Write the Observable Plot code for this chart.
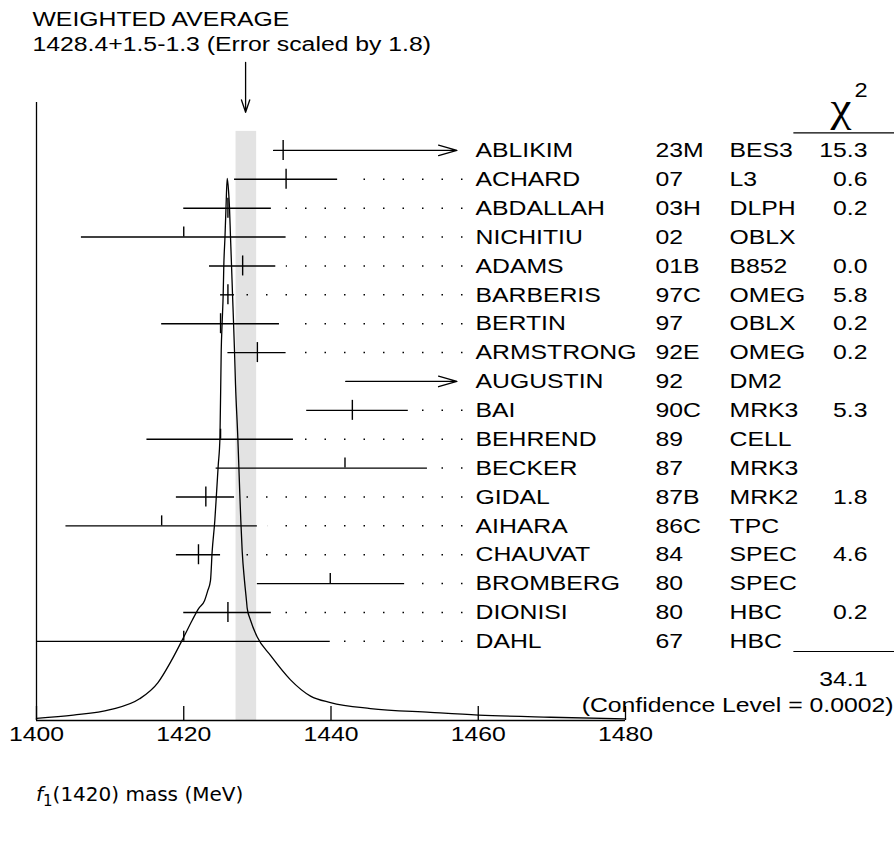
<!DOCTYPE html>
<html><head><meta charset="utf-8">
<script src="https://cdn.jsdelivr.net/npm/d3@7"></script>
<script src="https://cdn.jsdelivr.net/npm/@observablehq/plot@0.6"></script>
<style>
body{margin:0;background:#fff;}
#chart{position:absolute;left:0;top:0;}
#caption{position:absolute;left:36px;top:784px;font-family:"DejaVu Sans";font-size:20px;line-height:1;white-space:nowrap;}
#caption sub{font-size:0.75em;vertical-align:baseline;position:relative;top:0.3em;}
</style></head><body>
<div id="chart"></div>
<div id="caption"><i>f</i><sub>1</sub>(1420) mass (MeV)</div>
<script>
// ---- data ----
const authors = ["ABLIKIM","ACHARD","ABDALLAH","NICHITIU","ADAMS","BARBERIS","BERTIN","ARMSTRONG","AUGUSTIN","BAI","BEHREND","BECKER","GIDAL","AIHARA","CHAUVAT","BROMBERG","DIONISI","DAHL"];
const codes = ["23M","07","03H","02","01B","97C","97","92E","92","90C","89","87","87B","86C","84","80","80","67"];
const experiments = ["BES3","L3","DLPH","OBLX","B852","OMEG","OBLX","OMEG","DM2","MRK3","CELL","MRK3","MRK2","TPC","SPEC","SPEC","HBC","HBC"];
const chi2 = ["15.3","0.6","0.2","","0.0","5.8","0.2","0.2","","5.3","","","1.8","","4.6","","0.2",""];
const values = [1433.5,1433.9,1426.0,1420.0,1428.0,1426.0,1425.0,1430.0,null,1442.9,1425.0,1441.9,1423.0,1417.0,1422.0,1439.9,1426.0,1420.0];
const lows = [1432.2,1426.9,1420.0,1406.1,1423.5,1425.0,1417.0,1426.0,1442.0,1436.7,1415.0,1424.4,1419.0,1404.0,1419.0,1430.0,1420.0,1400.0];
const highs = [1457.1,1440.9,1431.9,1433.9,1432.5,1426.9,1433.0,1433.9,1457.1,1450.5,1434.9,1453.1,1426.9,1430.0,1425.0,1450.0,1431.9,1439.9];
const offScale = [true,false,false,false,false,false,false,false,true,false,false,false,false,false,false,false,false,false];

// ideogram curve (mass, relative height)
const curveMass = [1400.0,1405.0,1410.0,1414.0,1416.5,1418.3,1420.0,1421.15,1422.04,1422.82,1423.27,1423.63,1423.86,1424.22,1424.45,1424.68,1424.92,1425.09,1425.22,1425.36,1425.44,1425.6,1425.74,1425.9,1426.08,1426.21,1426.35,1426.49,1426.62,1426.76,1426.89,1427.03,1427.34,1427.48,1427.61,1427.75,1427.94,1428.25,1428.52,1428.62,1429.07,1429.98,1431.78,1434.5,1437.22,1439.93,1445.36,1453.51,1460.03,1469.81,1480.0];
const curveHeight = [0.004,0.01,0.02,0.04,0.07,0.11,0.154,0.185,0.207,0.221,0.24,0.258,0.312,0.369,0.419,0.47,0.523,0.683,0.735,0.788,0.839,0.892,0.947,1.0,0.978,0.947,0.892,0.839,0.788,0.735,0.683,0.62,0.523,0.47,0.419,0.369,0.312,0.258,0.221,0.207,0.185,0.154,0.12,0.075,0.045,0.033,0.022,0.015,0.01,0.006,0.003];

const xTicks = [1400,1420,1440,1460,1480];
const avgValue = 1428.4, avgLow = 1427.1, avgHigh = 1429.9;
const titleLines = ["WEIGHTED AVERAGE","1428.4+1.5-1.3 (Error scaled by 1.8)"];
const chiTotal = "34.1";
const confidence = "(Confidence Level = 0.0002)";

// ---- layout constants ----
const ROW_PX = 28.88;
const yTop = -1.66, yBase = 19.74;       // y domain in row units
const peakRow = 0.97;                    // row level of curve peak
const tickHalf = 10 / ROW_PX;
const axisTick = 14 / ROW_PX;
const leaderStart = 1457.86;             // where the dotted leaders begin (name side)
const leaderGap = 1.36;
const chiRuleFrom = 1502.8, chiRuleTo = 1516.6;
const STRETCH = 1.18;                    // reference lettering is wider than Liberation Sans

const rows = authors.map((a, i) => ({i, author: a, code: codes[i], exp: experiments[i], chi: chi2[i],
  value: values[i], lo: lows[i], hi: highs[i], off: offScale[i]}));
const curve = curveMass.map((m, k) => ({m, h: curveHeight[k]}));
const bars = rows.filter(d => !d.off);
const arrowsRows = rows.filter(d => d.off);
const fullTicks = rows.filter(d => d.value != null && d.chi !== "");
const halfTicks = rows.filter(d => d.value != null && d.chi === "");

const F = "Liberation Sans, Arial, sans-serif";
const FS = 21;

const plot = Plot.plot({
  width: 894, height: 770,
  marginLeft: 36, marginRight: 269, marginTop: 102, marginBottom: 50,
  x: {domain: [1400, 1480], axis: null},
  y: {domain: [yTop, yBase], reverse: true, axis: null},
  style: {fontFamily: F, fontSize: FS + "px", background: "white", color: "black"},
  marks: [
    Plot.rect([{a: avgLow, b: avgHigh}], {x1: "a", x2: "b", y1: () => -0.66, y2: () => yBase, fill: "#e3e3e3"}),
    Plot.ruleX([1400], {stroke: "black", strokeWidth: 1.3}),
    Plot.ruleY([yBase], {stroke: "black", strokeWidth: 1.3}),
    Plot.ruleX(xTicks, {x: d => d, y1: () => yBase, y2: () => yBase - axisTick, stroke: "black", strokeWidth: 1.3}),
    Plot.text(xTicks, {x: d => d, frameAnchor: "bottom", dy: 20, text: d => String(d), fontSize: FS, fill: "black"}),
    Plot.line(curve, {x: "m", y: d => yBase - d.h * (yBase - peakRow), curve: "monotone-x", stroke: "black", strokeWidth: 1.3}),
    Plot.ruleY(bars, {y: "i", x1: "lo", x2: "hi", stroke: "black", strokeWidth: 1.4}),
    Plot.arrow(arrowsRows, {x1: "lo", x2: "hi", y1: "i", y2: "i", headLength: 22, headAngle: 32, stroke: "black", strokeWidth: 1.3}),
    Plot.ruleX(fullTicks, {x: "value", y1: d => d.i - tickHalf, y2: d => d.i + tickHalf, stroke: "black", strokeWidth: 1.4}),
    Plot.ruleX(halfTicks, {x: "value", y1: d => d.i - tickHalf, y2: "i", stroke: "black", strokeWidth: 1.4}),
    Plot.link(bars, {x1: () => leaderStart, x2: d => d.hi + leaderGap, y1: "i", y2: "i", stroke: "black", strokeWidth: 1.5, strokeDasharray: "1.5 18"}),
    Plot.arrow([avgValue], {x1: d => d, x2: d => d, y1: () => -3.05, y2: () => -1.32, headLength: 15, headAngle: 37, stroke: "black", strokeWidth: 1.3}),
    Plot.text(rows, {y: "i", frameAnchor: "left", dx: 439, text: "author", textAnchor: "start", fontSize: FS, fill: "black"}),
    Plot.text(rows, {y: "i", frameAnchor: "left", dx: 619, text: "code", textAnchor: "start", fontSize: FS, fill: "black"}),
    Plot.text(rows, {y: "i", frameAnchor: "left", dx: 693, text: "exp", textAnchor: "start", fontSize: FS, fill: "black"}),
    Plot.text(rows, {y: "i", frameAnchor: "left", dx: 831, text: "chi", textAnchor: "end", fontSize: FS, fill: "black"}),
    Plot.text([titleLines[0]], {frameAnchor: "top-left", dx: -4, dy: -91, text: d => d, textAnchor: "start", fontSize: FS, fill: "black"}),
    Plot.text([titleLines[1]], {frameAnchor: "top-left", dx: -4, dy: -66, text: d => d, textAnchor: "start", fontSize: FS, fill: "black"}),
    Plot.text(["χ"], {frameAnchor: "top-left", dx: 794, dy: -10, text: d => d, fontSize: 40, fontFamily: "Liberation Serif", fill: "black"}),
    Plot.text(["2"], {frameAnchor: "top-left", dx: 818, dy: -20, text: d => d, fontSize: 20, fill: "black"}),
    Plot.link([0], {x1: () => chiRuleFrom, x2: () => chiRuleTo, y1: () => -0.61, y2: () => -0.61, stroke: "black", strokeWidth: 1.2}),
    Plot.link([0], {x1: () => chiRuleFrom, x2: () => chiRuleTo, y1: () => 17.35, y2: () => 17.35, stroke: "black", strokeWidth: 1.2}),
    Plot.text([chiTotal], {y: () => 18.3, frameAnchor: "left", dx: 831, text: d => d, textAnchor: "end", fontSize: FS, fill: "black"}),
    Plot.text([confidence], {y: () => 19.22, frameAnchor: "left", dx: 857, text: d => d, textAnchor: "end", fontSize: FS, fill: "black"})
  ]
});
// widen the lettering of every text mark (the reference lettering is horizontally wider)
plot.querySelectorAll('g[aria-label="text"]').forEach(g => {
  g.querySelectorAll("text").forEach(t => {
    const xa = t.getAttribute("x");
    let pre = "";
    if (xa != null && isFinite(+xa)) { pre = `translate(${+xa},0) `; t.removeAttribute("x"); }
    const tr = t.getAttribute("transform");
    t.setAttribute("transform", `${tr ? tr + " " : ""}${pre}scale(${STRETCH},1)`);
  });
});
document.getElementById("chart").appendChild(plot);
</script>
</body></html>
